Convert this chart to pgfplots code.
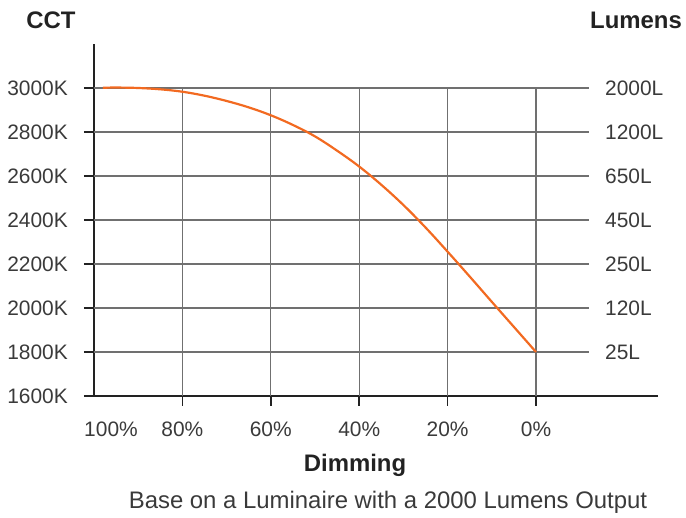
\documentclass[border=0pt]{standalone}
\usepackage{fontspec}
\setmainfont{Liberation Sans}
\usepackage{pgfplots}
\pgfplotsset{compat=1.18}
\definecolor{curve}{HTML}{F26A21}
\definecolor{gridc}{HTML}{707070}
\definecolor{axisc}{HTML}{222222}
\definecolor{txt}{HTML}{3A3A3A}
\newcommand\lab{\fontsize{21}{24}\selectfont}
\newcommand\ttl{\bfseries\fontsize{24}{28}\selectfont}

\begin{document}
\begin{tikzpicture}[x=1bp,y=1bp]
\path[use as bounding box] (-94,-122) rectangle (592,396);
\begin{axis}[
  at={(0,0)}, anchor=south west,
  scale only axis, width=564bp, height=352bp,
  xmin=-27.6, xmax=100, x dir=reverse,
  ymin=1600, ymax=3200,
  clip=false,
  axis x line=bottom, axis y line=left,
  axis line style={-, line width=2pt, axisc},
  xtick={80,60,40,20,0},
  xticklabels={80\%,60\%,40\%,20\%,0\%},
  extra x ticks={100},
  extra x tick labels={100\%},
  extra x tick style={major tick length=0pt, xticklabel style={xshift=17bp, yshift=-10bp}},
  ytick={1600,1800,2000,2200,2400,2600,2800,3000},
  yticklabels={1600K,1800K,2000K,2200K,2400K,2600K,2800K,3000K},
  tick align=outside, major tick length=10bp,
  tick style={line width=1.5pt, axisc},
  xticklabel style={font=\lab, text=txt, anchor=north, inner sep=0pt, yshift=-16bp},
  yticklabel style={font=\lab, text=txt, anchor=east, inner sep=0pt, xshift=-16bp},
]
% grid
\draw[gridc, line width=1.2pt] (axis cs:100,3000) -- (axis cs:-12,3000);
\draw[gridc, line width=1.2pt] (axis cs:100,2800) -- (axis cs:-12,2800);
\draw[gridc, line width=1.2pt] (axis cs:100,2600) -- (axis cs:-12,2600);
\draw[gridc, line width=1.2pt] (axis cs:100,2400) -- (axis cs:-12,2400);
\draw[gridc, line width=1.2pt] (axis cs:100,2200) -- (axis cs:-12,2200);
\draw[gridc, line width=1.2pt] (axis cs:100,2000) -- (axis cs:-12,2000);
\draw[gridc, line width=1.2pt] (axis cs:100,1800) -- (axis cs:-12,1800);
\draw[gridc, line width=1.2pt] (axis cs:80,1600) -- (axis cs:80,3000);
\draw[gridc, line width=1.2pt] (axis cs:60,1600) -- (axis cs:60,3000);
\draw[gridc, line width=1.2pt] (axis cs:40,1600) -- (axis cs:40,3000);
\draw[gridc, line width=1.2pt] (axis cs:20,1600) -- (axis cs:20,3000);
\draw[gridc, line width=1.2pt] (axis cs:0,1600) -- (axis cs:0,3000);

\addplot[curve, line width=2.2pt, smooth, tension=0.6] coordinates {
  (98,3001) (95,3002) (90,3000) (85,2994) (80,2983) (75,2965)
  (70,2941) (65,2912) (60,2876) (55,2832) (50,2780) (45,2715)
  (40,2643) (35,2560) (30,2468) (25,2366) (20,2256) (15,2143)
  (10,2028) (5,1914) (0,1800)
};

% lumens labels
\node[anchor=west, inner sep=0pt, font=\lab, text=txt] at (axis cs:-15.6,3000) {2000L};
\node[anchor=west, inner sep=0pt, font=\lab, text=txt] at (axis cs:-15.6,2800) {1200L};
\node[anchor=west, inner sep=0pt, font=\lab, text=txt] at (axis cs:-15.6,2600) {650L};
\node[anchor=west, inner sep=0pt, font=\lab, text=txt] at (axis cs:-15.6,2400) {450L};
\node[anchor=west, inner sep=0pt, font=\lab, text=txt] at (axis cs:-15.6,2200) {250L};
\node[anchor=west, inner sep=0pt, font=\lab, text=txt] at (axis cs:-15.6,2000) {120L};
\node[anchor=west, inner sep=0pt, font=\lab, text=txt] at (axis cs:-15.6,1800) {25L};
\end{axis}
\node[font=\ttl, text=axisc] at (-43,376) {CCT};
\node[font=\ttl, text=axisc] at (542,376) {Lumens};
\node[font=\ttl, text=axisc] at (261,-69) {Dimming};
\node[font=\fontsize{24}{28}\selectfont, text=txt] at (294,-106) {Base on a Luminaire with a 2000 Lumens Output};
\end{tikzpicture}
\end{document}
